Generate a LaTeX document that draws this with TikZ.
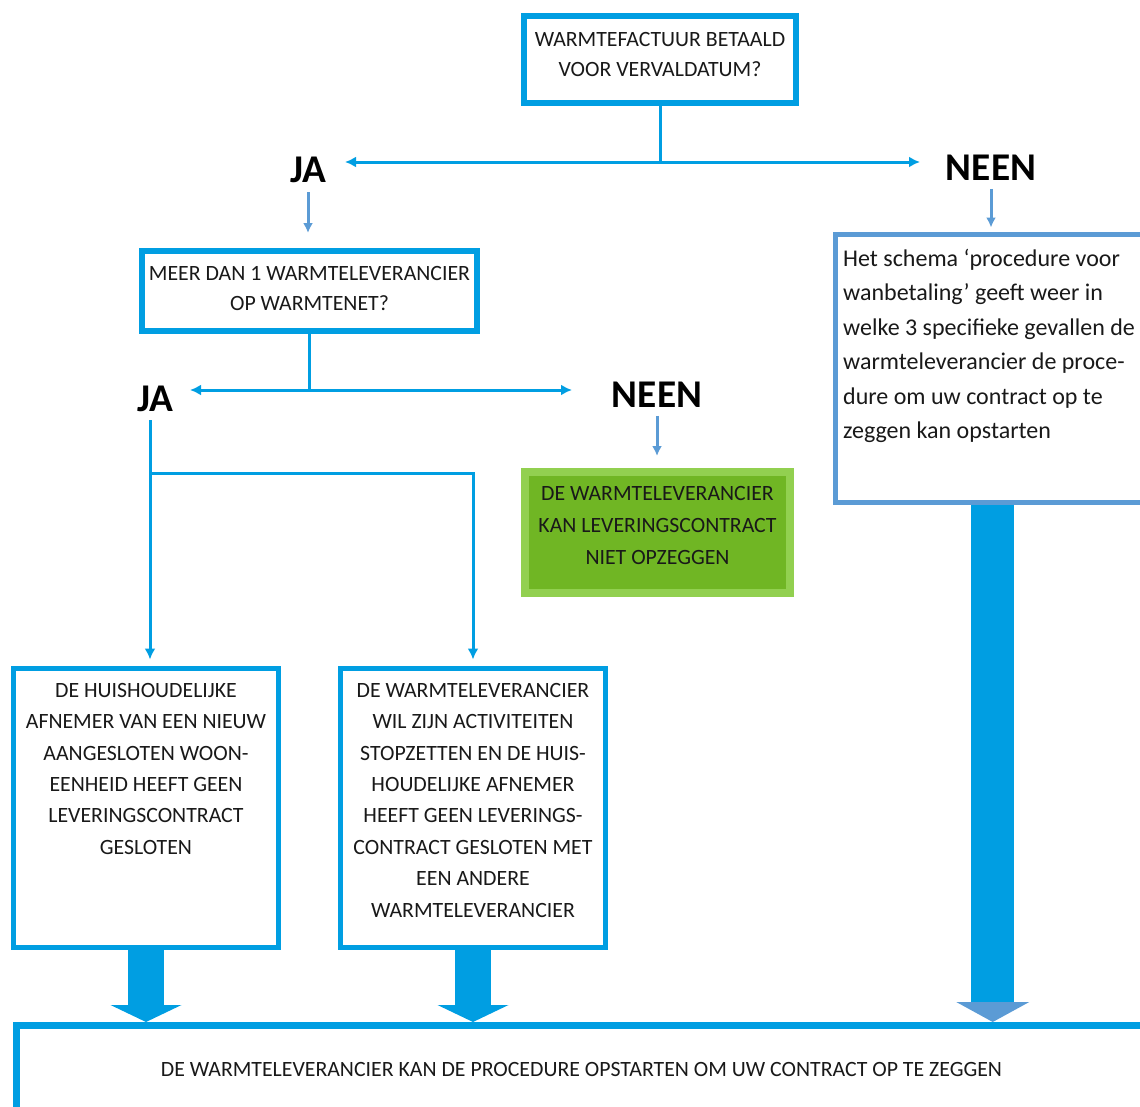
\documentclass[tikz,border=0pt]{standalone}
\usepackage{fontspec}
\setmainfont{Carlito}
\usetikzlibrary{arrows.meta}
\definecolor{fblue}{RGB}{0,158,226}
\definecolor{iblue}{RGB}{91,155,213}
\definecolor{gfill}{RGB}{112,182,36}
\definecolor{gline}{RGB}{146,208,80}
\definecolor{ink}{RGB}{25,25,25}
\begin{document}
\begin{tikzpicture}[x=1pt,y=-1pt,
 qbox/.style={draw=fblue,line width=6pt,fill=white,inner sep=0pt,align=center,
              text=ink,font=\fontsize{21.8}{30}\selectfont},
 ibox/.style={draw=iblue,line width=5pt,fill=white,inner sep=0pt},
 okbox/.style={draw=gline,line width=8pt,fill=gfill,inner sep=0pt,align=center,
               text=ink,font=\fontsize{21.8}{32}\selectfont},
 btxt/.style={inner sep=0pt,align=center,text=ink,font=\fontsize{21.8}{31.4}\selectfont},
 lbl/.style={inner sep=4pt,text=black,font=\fontsize{39.3}{41}\selectfont\bfseries},
 ln/.style={draw=fblue,line width=3pt},
 arr/.style={ln,-{Latex[length=11pt,width=11pt]}},
 sarr/.style={draw=iblue,line width=3pt,-{Latex[length=10pt,width=10pt]}},
 big/.style={draw=fblue,line width=36pt,-{Triangle[length=17pt,width=71pt,line width=0pt]}}]
 \useasboundingbox (0,0) rectangle (1140,1106);
 % questions
 \node[qbox,minimum width=272pt,minimum height=87pt,text depth=10pt] (q1) at (660,59.5)
  {WARMTEFACTUUR BETAALD\\VOOR VERVALDATUM?};
 \node[lbl] (ja1) at (308,170) {JA};
 \node[lbl] (neen1) at (991,168) {NEEN};
 \node[qbox,minimum width=335pt,minimum height=80pt,text depth=6pt] (q2) at (309.5,291)
  {MEER DAN 1 WARMTELEVERANCIER\\OP WARMTENET?};
 \node[lbl] (ja2) at (155,399) {JA};
 \node[lbl] (neen2) at (657,395) {NEEN};
 \node[okbox,minimum width=265pt,minimum height=121pt,text depth=14pt] (nok) at (657.5,532.5)
  {DE WARMTELEVERANCIER\\KAN LEVERINGSCONTRACT\\NIET OPZEGGEN};
 % info box on the right
 \node[ibox,minimum width=314.5pt,minimum height=268pt] (info) at (992.75,368.5) {};
 \node[inner sep=0pt,anchor=north west,align=left,text=ink,
       font=\fontsize{24}{34.4}\selectfont] (infotxt) at (843,249)
  {Het schema ‘procedure voor\\wanbetaling’ geeft weer in\\welke 3 specifieke gevallen de\\
   warmteleverancier de proce-\\dure om uw contract op te\\zeggen kan opstarten};
 % the two cases
 \node[qbox,line width=5pt,minimum width=265pt,minimum height=279pt] (hh) at (146,808) {};
 \node[btxt,anchor=north] (hhtxt) at (146,683)
  {DE HUISHOUDELIJKE\\AFNEMER VAN EEN NIEUW\\AANGESLOTEN WOON-\\EENHEID HEEFT GEEN\\
   LEVERINGSCONTRACT\\GESLOTEN};
 \node[qbox,line width=5pt,minimum width=265pt,minimum height=279pt] (wl) at (473,808) {};
 \node[btxt,anchor=north] (wltxt) at (473,683)
  {DE WARMTELEVERANCIER\\WIL ZIJN ACTIVITEITEN\\STOPZETTEN EN DE HUIS-\\HOUDELIJKE AFNEMER\\
   HEEFT GEEN LEVERINGS-\\CONTRACT GESLOTEN MET\\EEN ANDERE\\WARMTELEVERANCIER};
 % result
 \node[qbox,line width=7pt,minimum width=1133.5pt,minimum height=104.5pt] (fin) at (583.25,1077.75) {};
 \node[btxt,font=\fontsize{21.8}{24}\selectfont] (fintxt) at (581.5,1069)
  {DE WARMTELEVERANCIER KAN DE PROCEDURE OPSTARTEN OM UW CONTRACT OP TE ZEGGEN};
 % connectors
 \coordinate (j1) at (660,162);
 \coordinate (ja1t) at (345,162);
 \coordinate (neen1t) at (920,162);
 \draw[ln] (q1.south) -- (j1);
 \draw[arr] (j1) -- (ja1t);
 \draw[arr] (j1) -- (neen1t);
 \draw[sarr,shorten <=5pt,shorten >=15pt] (ja1.south) -- (ja1.south |- q2.north);
 \draw[sarr,shorten <=4pt,shorten >=4.5pt] (neen1.south) -- (neen1.south |- info.north);
 \coordinate (j2) at (309.5,390);
 \coordinate (ja2t) at (190,390);
 \coordinate (neen2t) at (572,390);
 \draw[ln] (q2.south) -- (j2);
 \draw[arr] (j2) -- (ja2t);
 \draw[arr] (j2) -- (neen2t);
 \draw[sarr,shorten <=4pt,shorten >=12pt] (neen2.south) -- (neen2.south |- nok.north);
 \coordinate (s2) at (150,420);
 \coordinate (b2) at (150,473);
 \draw[arr,shorten >=6.5pt] (s2) -- (s2 |- hh.north);
 \draw[arr,shorten >=6.5pt] (b2) -| (wl.north);
 \draw[big] (hh.south) -- (hh.south |- fin.north);
 \draw[big] (wl.south) -- (wl.south |- fin.north);
 \draw[big,line width=43pt,-{Triangle[length=20pt,width=73pt,line width=0pt,color=iblue]}]
  (info.south) -- (info.south |- fin.north);
\end{tikzpicture}
\end{document}
